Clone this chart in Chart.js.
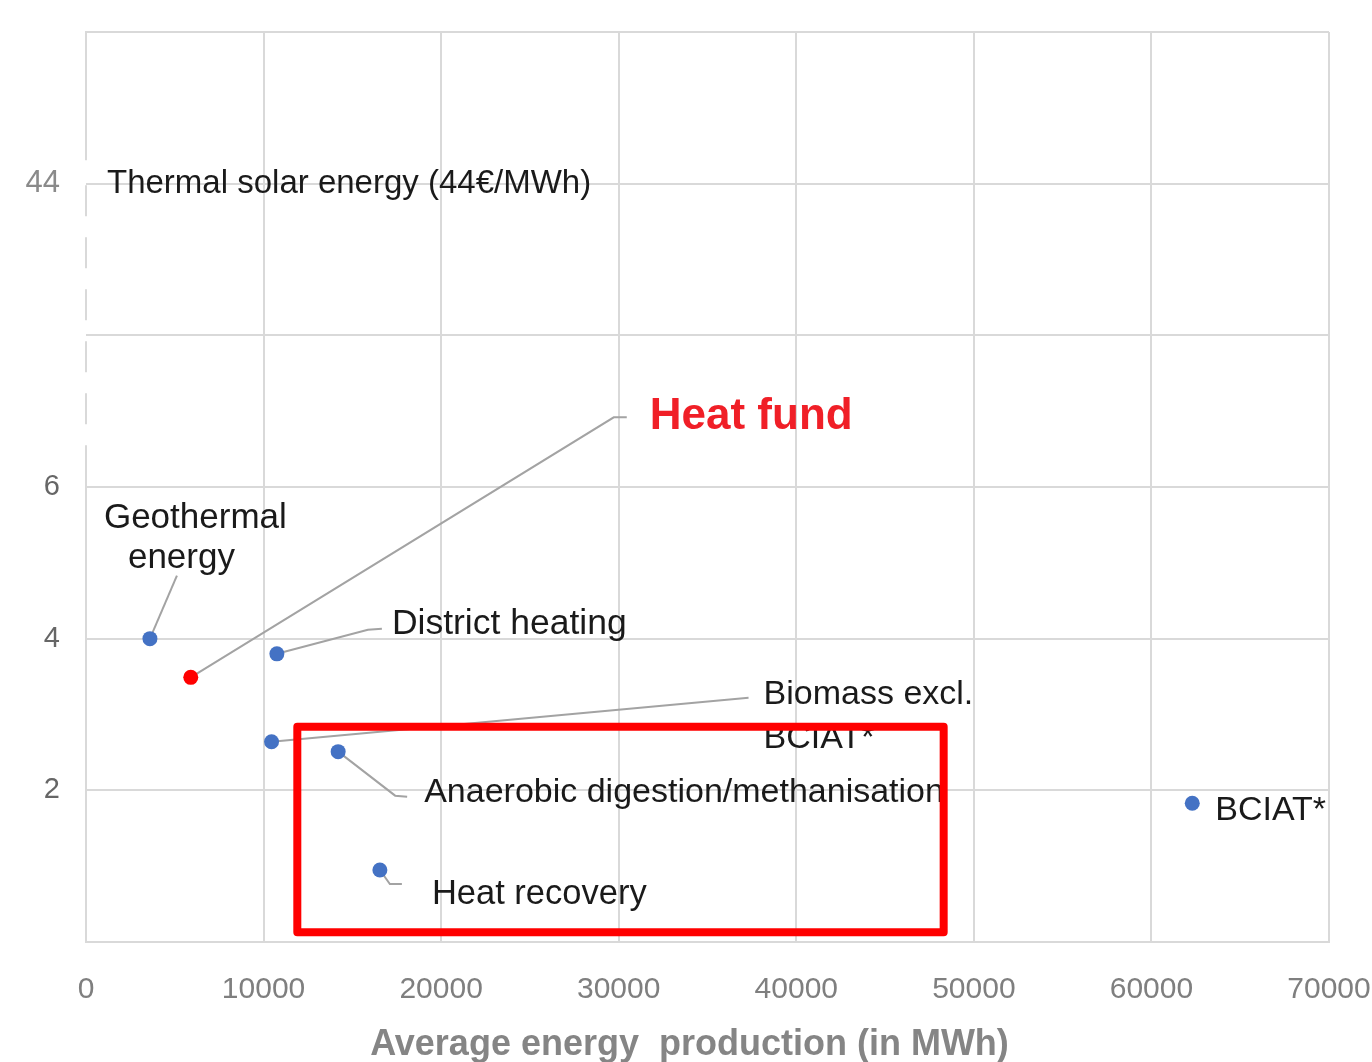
<!DOCTYPE html>
<html><head><meta charset="utf-8">
<script src="https://cdn.jsdelivr.net/npm/chart.js@4.4.1/dist/chart.umd.min.js"></script>
<style>html,body{margin:0;padding:0;background:#fff;overflow:hidden}canvas{display:block}</style>
</head><body>
<canvas id="c" width="1372" height="1062"></canvas>
<script>
// ---- data ----
const categories = ['Geothermal energy', 'Heat fund', 'District heating', 'Biomass excl. BCIAT*', 'Anaerobic digestion/methanisation', 'Heat recovery', 'BCIAT*'];
const productionMWh = [3600, 5900, 10750, 10450, 14200, 16550, 62300];
const aidPerMWh = [4.0, 3.49, 3.8, 2.64, 2.51, 0.95, 1.83];
const isHeatFund = [false, true, false, false, false, false, false];
const labelLines = [['Geothermal', 'energy'], ['Heat fund'], ['District heating'], ['Biomass excl.', 'BCIAT*'], ['Anaerobic digestion/methanisation'], ['Heat recovery'], ['BCIAT*']];
const xTickValues = [0, 10000, 20000, 30000, 40000, 50000, 60000, 70000];
const yTickLabels = {2: '2', 4: '4', 6: '6', 10: '44'};
const thermalSolarNote = 'Thermal solar energy (44€/MWh)';
const thermalSolarTickValue = 10;
const xAxisTitle = 'Average energy  production (in MWh)';

// ---- layout / style (pixel offsets relative to each point) ----
const labelLayout = [
  {text: [[-46, -120], [-22, -80]], leader: [[27, -63]]},
  {text: [[459, -260]], leader: [[423, -260], [436, -260]]},
  {text: [[115, -30]], leader: [[91, -24], [105, -25]]},
  {text: [[492, -47], [492, -3]], leader: [[477, -44]]},
  {text: [[86, 41]], leader: [[57, 44], [69, 45]]},
  {text: [[52, 25]], leader: [[10, 14], [22, 14]]},
  {text: [[23, 7]], leader: []}
];
const labelFontSizes = [35, 44, 35.5, 34, 34, 34.5, 34];
const highlightBox = {xMin: 11900, xMax: 48300, yMin: 0.13, yMax: 2.84};
const axisBreak = {solidTopTo: 10.31, dashFrom: 9.98, dashTo: 6.46};

const BLUE = '#4472c4', RED = '#ff0000', GRID = '#d9d9d9';
const TEXT = '#1a1a1a', LEADER = '#a3a3a3';
const FAMILY = "'Liberation Sans', Arial, sans-serif";

const annotations = {
  id: 'annotations',
  beforeDatasetsDraw(chart) {
    const ctx = chart.ctx, xs = chart.scales.x, ys = chart.scales.y;
    const x0 = xs.getPixelForValue(0);
    ctx.save();
    ctx.strokeStyle = GRID; ctx.lineWidth = 2;
    // left axis with break
    ctx.beginPath();
    ctx.moveTo(x0, ys.getPixelForValue(ys.max) - 1); ctx.lineTo(x0, ys.getPixelForValue(axisBreak.solidTopTo));
    ctx.moveTo(x0, ys.getPixelForValue(axisBreak.dashTo)); ctx.lineTo(x0, ys.getPixelForValue(0));
    ctx.stroke();
    ctx.setLineDash([31, 21]);
    ctx.beginPath();
    ctx.moveTo(x0, ys.getPixelForValue(axisBreak.dashFrom)); ctx.lineTo(x0, ys.getPixelForValue(axisBreak.dashTo));
    ctx.stroke();
    ctx.setLineDash([]);
    // leader lines
    ctx.strokeStyle = LEADER; ctx.lineWidth = 2;
    productionMWh.forEach((v, i) => {
      const L = labelLayout[i];
      if (!L.leader.length) return;
      const px = xs.getPixelForValue(v), py = ys.getPixelForValue(aidPerMWh[i]);
      ctx.beginPath(); ctx.moveTo(px, py);
      L.leader.forEach(p => ctx.lineTo(px + p[0], py + p[1]));
      ctx.stroke();
    });
    ctx.restore();
  },
  afterDatasetsDraw(chart) {
    const ctx = chart.ctx, xs = chart.scales.x, ys = chart.scales.y;
    ctx.save();
    ctx.textAlign = 'left'; ctx.textBaseline = 'middle';
    // thermal solar note
    ctx.font = "33px " + FAMILY; ctx.fillStyle = TEXT;
    ctx.fillText(thermalSolarNote, xs.getPixelForValue(0) + 21, ys.getPixelForValue(thermalSolarTickValue) + 0.5);
    productionMWh.forEach((v, i) => {
      const L = labelLayout[i];
      const px = xs.getPixelForValue(v), py = ys.getPixelForValue(aidPerMWh[i]);
      ctx.font = (isHeatFund[i] ? 'bold ' : '') + labelFontSizes[i] + 'px ' + FAMILY;
      ctx.fillStyle = isHeatFund[i] ? '#f01f27' : TEXT;
      labelLines[i].forEach((line, j) => ctx.fillText(line, px + L.text[j][0], py + L.text[j][1]));
    });
    // highlight box
    const bx1 = xs.getPixelForValue(highlightBox.xMin), bx2 = xs.getPixelForValue(highlightBox.xMax);
    const by1 = ys.getPixelForValue(highlightBox.yMax), by2 = ys.getPixelForValue(highlightBox.yMin);
    ctx.strokeStyle = RED; ctx.lineWidth = 8; ctx.lineJoin = 'round';
    ctx.strokeRect(bx1, by1, bx2 - bx1, by2 - by1);
    // x axis title
    ctx.textAlign = 'center';
    ctx.font = "bold 36px " + FAMILY;
    ctx.fillStyle = '#858585';
    ctx.fillText(xAxisTitle, (xs.left + xs.right) / 2 - 18, 1045);
    ctx.restore();
  }
};

new Chart(document.getElementById('c'), {
  type: 'scatter',
  data: {
    datasets: [{
      label: 'Energy sources',
      data: productionMWh.map((x, i) => ({x, y: aidPerMWh[i]})),
      pointBackgroundColor: isHeatFund.map(h => h ? RED : BLUE),
      pointBorderWidth: 0,
      pointRadius: 7.5,
      pointHoverRadius: 7.5
    }]
  },
  options: {
    responsive: false,
    animation: false,
    devicePixelRatio: 1,
    layout: {padding: {top: 32, right: 43, left: 0, bottom: 0}},
    plugins: {legend: {display: false}, tooltip: {enabled: false}, title: {display: false}},
    scales: {
      x: {
        type: 'linear', min: 0, max: 70000,
        afterFit(s) { s.height = 120; s.paddingLeft = 0; s.paddingRight = 0; },
        afterBuildTicks(s) { s.ticks = xTickValues.map(v => ({value: v})); },
        ticks: {
          autoSkip: false, maxRotation: 0, padding: 30,
          color: '#7f7f7f',
          font: {family: FAMILY, size: 30},
          callback: v => String(v)
        },
        grid: {color: c => (c.tick && c.tick.value === 0) ? 'rgba(0,0,0,0)' : GRID, lineWidth: 2, drawTicks: false},
        border: {display: true, color: GRID, width: 2}
      },
      y: {
        min: 0, max: 12,
        afterFit(s) { s.width = 86; s.paddingTop = 0; s.paddingBottom = 0; },
        ticks: {
          stepSize: 2, padding: 26,
          color: c => c.tick && c.tick.value === 10 ? '#8a8a8a' : '#666666',
          font: c => ({family: FAMILY, size: (c.tick && c.tick.value === 10) ? 31 : 29}),
          callback: v => yTickLabels[v] || ''
        },
        grid: {color: GRID, lineWidth: 2, drawTicks: false},
        border: {display: false}
      }
    }
  },
  plugins: [annotations]
});
</script>
</body></html>
